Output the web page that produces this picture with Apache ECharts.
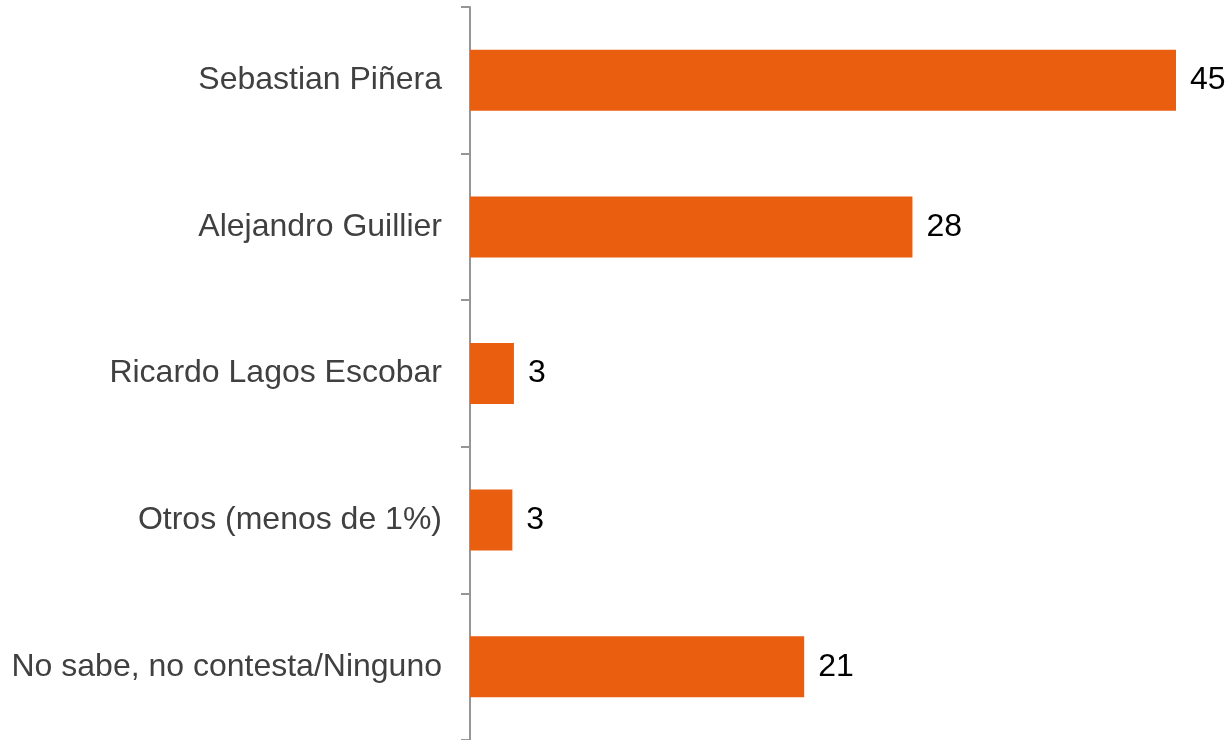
<!DOCTYPE html>
<html>
<head>
<meta charset="utf-8">
<script src="https://cdn.jsdelivr.net/npm/echarts@6/dist/echarts.min.js"></script>
<style>
html,body{margin:0;padding:0;background:#fff;}
#chart{width:1229px;height:740px;}
</style>
</head>
<body>
<div id="chart"></div>
<script>
var categories = ['Sebastian Piñera', 'Alejandro Guillier', 'Ricardo Lagos Escobar', 'Otros (menos de 1%)', 'No sabe, no contesta/Ninguno'];
var values = [45, 28.2, 2.8, 2.7, 21.3];

var chart = echarts.init(document.getElementById('chart'));
chart.setOption({
  animation: false,
  grid: { left: 470, right: 53, top: 7, bottom: -2, containLabel: false },
  xAxis: { type: 'value', min: 0, max: 45, show: false },
  yAxis: {
    type: 'category',
    data: categories,
    inverse: true,
    axisLine: { show: true, lineStyle: { color: '#969696', width: 2 } },
    axisTick: { show: true, length: 9, lineStyle: { color: '#969696', width: 2 } },
    axisLabel: { margin: 28, color: '#404040', fontSize: 32, fontFamily: 'Liberation Sans, Arial, sans-serif' },
    splitLine: { show: false }
  },
  series: [{
    type: 'bar',
    data: values,
    barWidth: 61,
    itemStyle: { color: '#EA5E10' },
    label: {
      show: true,
      position: 'right',
      distance: 14,
      color: '#000',
      fontSize: 32,
      fontFamily: 'Liberation Sans, Arial, sans-serif',
      formatter: function (p) { return Math.round(p.value); }
    }
  }]
});
</script>
</body>
</html>
